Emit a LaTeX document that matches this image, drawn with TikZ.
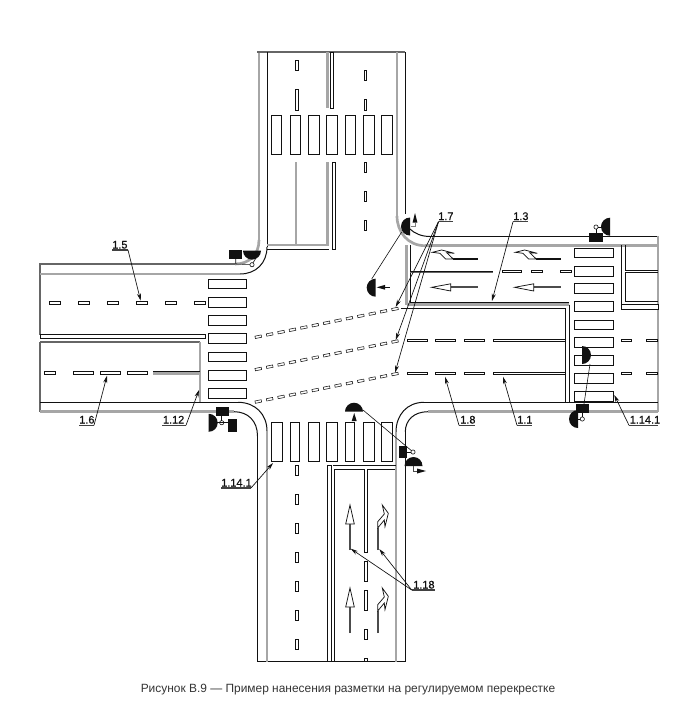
\documentclass[tikz,border=0pt]{standalone}
\usepackage{fontspec}
\setmainfont{Liberation Sans}
\newfontface\lblfont[FakeBold=0.5]{Liberation Sans}
\usetikzlibrary{arrows.meta,calc}
\definecolor{roadgray}{HTML}{A6A6A6}
\definecolor{ink}{HTML}{111111}
\tikzset{
  bk/.style={draw=ink,line width=.75pt},
  gt/.style={draw=roadgray,line width=2pt},
  gm/.style={draw=gray!80!black,line width=1.1pt},
  mk/.style={draw=ink,line width=.7pt,fill=white},
  lead/.style={draw=ink,line width=.5pt,-{Stealth[length=5.5pt,width=3pt]}},
  und/.style={draw=ink!80,line width=.8pt},
  lbl/.style={font=\lblfont\fontsize{8.2pt}{9pt}\selectfont,text=ink,inner sep=0pt,anchor=base west},
  blk/.style={fill=ink},
  wa/.style={draw=ink,line width=.55pt,fill=white},
  captxt/.style={font=\fontsize{8.95pt}{10pt}\selectfont,text=ink!85,inner sep=0pt,anchor=base west}
}
\newcommand{\mkbox}[4]{\draw[mk] (#1,#2) rectangle (#3,#4);}
\newcommand{\hdisc}[3]{\fill[ink,shift={(#1,#2)}] (#3-90:6.75pt) arc[start angle=#3-90,end angle=#3+90,radius=6.75pt] -- cycle;}
\newcommand{\ring}[2]{\draw[ink,line width=.45pt,fill=white] (#1,#2) circle[radius=1.6pt];}
\begin{document}
\begin{tikzpicture}[x=.75pt,y=-.75pt]
\useasboundingbox (0,0) rectangle (682,701);
\fill[white] (0,0) rectangle (682,701);

% ---- north arm
\draw[gt] (259,240) -- (259,52);
\draw[gm] (257,52) -- (405,52);
\draw[bk] (267,52) -- (267,247);
\draw[gt] (397,52) -- (397,216);
\draw[bk] (405.5,52) -- (405.5,214);
\draw[gt] (327.5,52) -- (327.5,108);
\draw[bk] (330.5,52) rectangle (333.5,108);
\draw[gt] (267,245) -- (327.5,245) -- (327.5,162);
\draw[gt] (296,245) -- (296,162);
\draw[bk] (267,249.5) -- (329,249.5);
\draw[bk] (332.5,162) rectangle (335,249.5);
\mkbox{295.5}{60}{298}{70.5}
\mkbox{295.5}{89}{298}{110}
\mkbox{364}{70}{366.5}{80.5}
\mkbox{364}{99}{366.5}{110}
\mkbox{364}{162}{366.5}{172}
\mkbox{364}{191}{366.5}{201}
\mkbox{364}{220}{366.5}{230}
\foreach \a/\b in {271/281.5,290/300,308/319,326/337,345/355,363/374,381/392}{\mkbox{\a}{115}{\b}{154.5}}

% ---- corners
\draw[gt] (259,240) .. controls (259,255) and (249,264) .. (235,264);
\draw[bk] (267,247) .. controls (267,263) and (256,274) .. (240,274);
\draw[gt] (397,216) .. controls (397,232) and (408,245.7) .. (425,245.7);
\draw[bk] (410,229) .. controls (414,233) and (421,236.5) .. (430,236.5);
\draw[bk] (396,432) .. controls (396,415) and (407,402.3) .. (424,402.3);
\draw[bk] (405.3,432) .. controls (405.3,420) and (414,411.7) .. (428,411.7);
\draw[bk] (238,402.3) .. controls (255,402.3) and (267,414) .. (267,431);
\draw[bk] (234,411.7) .. controls (248,411.7) and (257.5,421) .. (257.5,436);

% ---- west arm
\draw[gm] (235,264) -- (40,264) -- (40,335);
\draw[gt,line width=1.4pt] (40,274) -- (240,274);
\draw[mk] (40,334.5) rectangle (205,338.5);
\draw[gm] (40,342) -- (200,342);
\draw[gt] (200,342) -- (200,402);
\draw[gm] (40,342) -- (40,411.7);
\draw[bk] (40,402.3) -- (238,402.3);
\draw[gt] (40,411.7) -- (234,411.7);
\foreach \a/\b in {49/60,78/89,107/118,136/147,165/176,194/205}{\mkbox{\a}{301.7}{\b}{304.2}}
\foreach \a/\b in {44/55,73/93,100/120,127/147}{\mkbox{\a}{371.3}{\b}{374}}
\draw[bk] (153,371.3) -- (200,371.3);
\draw[gt] (153,373.2) -- (200,373.2);
\foreach \y/\z in {279/288,297/307,315/325,333/343,352/361,370/380,388/398}{\mkbox{208}{\y}{246.5}{\z}}

% ---- south arm
\draw[bk] (257.5,436) -- (257.5,661.5) -- (405.3,661.5) -- (405.3,432);
\draw[gt] (267,431) -- (267,661.5);
\draw[gt] (396,432) -- (396,661.5);
\draw[bk] (327,465) rectangle (331,661.5);
\draw[bk] (334,661.5) -- (334,469.3) -- (364.7,469.3) -- (364.7,552) -- (367.8,552) -- (367.8,469.3) -- (395,469.3);
\draw[bk] (333,465) -- (396,465);
\foreach \a/\b in {465/475,494/504,523/533,552/562,581/591,610/620,639/649}{\mkbox{295.5}{\a}{298.5}{\b}}
\foreach \a/\b in {561/581,590/610,629/639,658/661.5}{\mkbox{364.7}{\a}{367.8}{\b}}
\foreach \a/\b in {271/282,290/299,308/319,326/337,345/354,363/374,381/392}{\mkbox{\a}{422}{\b}{461}}

% ---- east arm
\draw[bk] (430,236.5) -- (658,236.5);
\draw[gt] (425,245.7) -- (658,245.7);
\draw[gt] (658,236) -- (658,412);
\draw[bk] (424,402.3) -- (658,402.3);
\draw[gt] (428,411.7) -- (658,411.7);
\draw[gt] (406.5,245) -- (406.5,304.5);
\draw[bk] (410,245) -- (410,302.3) -- (569,302.3);
\draw[gt] (406.5,304.5) -- (569,304.5);
\draw[bk] (401,308) -- (565,308) -- (565,402.3);
\draw[bk] (569,304.5) -- (569,402.3);
\draw[bk] (410,271) -- (493,271);
\draw[gm,line width=.8pt] (410,272.2) -- (493,272.2);
\foreach \a/\b in {502/521,531/542,560/571}{\mkbox{\a}{270.3}{\b}{272.3}}
\foreach \y in {339,372}{
  \foreach \a/\b in {407/427,435/455,464/484,493/565}{\mkbox{\a}{\y}{\b}{\y+2.6}}
  \foreach \a/\b in {621/631,646/657}{\mkbox{\a}{\y}{\b}{\y+2.6}}
}
\foreach \y/\z in {248/257.5,266/276,283/293,301/311,320/329,337/347,355/365,373/383,391/401}{\mkbox{574}{\y}{613}{\z}}
\draw[bk] (621,245) -- (621,304);
\draw[bk] (625.6,245) -- (625.6,270.3) -- (658,270.3);
\draw[bk] (625.6,272.3) -- (658,272.3);
\draw[bk] (625.6,272.3) -- (625.6,301.7) -- (658,301.7);
\draw[mk] (621,304.5) rectangle (658,309);

% ---- dashed diagonals
\foreach \sy/\ey in {336.7/309,369/341.5,401.5/374}{
  \foreach \i in {0,...,12}{
    \draw[ink,line width=.4pt,fill=white,shift={($(258.3,\sy)!\i/12!(395,\ey)$)},rotate=11.3]
      (-2.4pt,-.9pt) rectangle (2.4pt,.9pt);
  }
}

% ---- pavement arrows, west-bound
\foreach \d in {0,83}{
  \draw[draw=gray!60!black,line width=1.6pt] (477.7+\d,287.3) -- (450.7+\d,287.3);
  \draw[wa] (431.7+\d,287.3) -- (450.7+\d,283.8) -- (450.7+\d,291) -- cycle;
  \draw[draw=ink,line width=.8pt] (477.7+\d,259) -- (453.3+\d,259);
  \draw[wa] (432.3+\d,252.3) -- (441.7+\d,250) -- (454.3+\d,253.3) -- (446.7+\d,252.7) -- (453.3+\d,259) -- (445.7+\d,259) -- (440+\d,253.3) -- cycle;
}
% ---- pavement arrows, north-bound
\foreach \d in {0,83}{
  \draw[draw=gray!60!black,line width=1.6pt] (350,550+\d) -- (350,524+\d);
  \draw[wa] (350,505+\d) -- (345.7,524+\d) -- (354.3,524+\d) -- cycle;
  \draw[draw=gray!60!black,line width=1.3pt] (378,550+\d) -- (378,528+\d);
  \draw[wa] (377.7,528+\d) -- (377.7,521.7+\d) -- (384.3,514+\d) -- (382.3,505+\d) -- (388.3,513.3+\d) -- (385,526.7+\d) -- (384.3,520+\d) -- cycle;
}

% ---- signals
\fill[blk] (229,250) rectangle (242,259);
\hdisc{252}{250.6}{270}
\draw[ink,line width=.45pt] (235.7,259) -- (235.7,264) -- (252,264.5) -- (256,258);
\ring{252}{264.7}

\hdisc{410}{226.5}{180}
\fill[ink] (415,213) -- (412.6,222.5) -- (417.4,222.5) -- cycle;
\draw[gray,line width=.6pt] (415,222.5) -- (415,226) -- (410.5,226);
\hdisc{375.7}{287.7}{180}
\fill[ink] (376.7,287.3) -- (385,284.9) -- (385,289.7) -- cycle;
\draw[ink,line width=.5pt] (385,287.3) -- (390,287.3);

\hdisc{610}{226.7}{180}
\fill[blk] (589,232.7) rectangle (603,241.7);
\ring{596}{227}
\draw[ink,line width=.45pt] (596,229) -- (596,232.7) (598,227) -- (603,227);

\hdisc{582}{355}{0}
\fill[blk] (576,404) rectangle (589,412.7);
\hdisc{578}{419}{180}
\ring{582.3}{419}
\draw[ink,line width=.45pt] (582.3,412.7) -- (582.3,417) (578,419) -- (580.3,419);

\fill[blk] (216,407) rectangle (229,415.7);
\hdisc{208.7}{422.8}{0}
\fill[blk] (228,419) rectangle (237,431.7);
\ring{221.7}{422.7}
\draw[ink,line width=.45pt] (217,422.7) -- (228,422.7) (221.7,415.7) -- (221.7,421);

\hdisc{354}{411.7}{90}
\fill[ink] (354.2,413) -- (351.7,421) -- (356.7,421) -- cycle;
\fill[blk] (399,446) rectangle (407,458);
\ring{413}{452}
\draw[ink,line width=.45pt] (407,452) -- (411,452);
\hdisc{413.5}{466}{90}
\draw[gray!60!black,line width=.7pt] (413,466) -- (413,471) -- (418,471);
\fill[ink] (426,471) -- (417,468.5) -- (417,473.5) -- cycle;

% ---- leaders between signals
\coordinate (sigA) at (401.7,232);
\coordinate (sigB) at (371.7,279);
\coordinate (sigC) at (590,364);
\coordinate (sigD) at (584,404);
\coordinate (sigE) at (363,410);
\coordinate (sigF) at (411.5,450.7);
\draw[ink,line width=.45pt] (sigA) -- (sigB);
\draw[ink,line width=.45pt] (sigC) -- (sigD);
\draw[ink,line width=.45pt] (sigE) -- (sigF);

% ---- labels
\node[lbl] (n15) at (112,248.5) {1.5};
\node[lbl] (n16) at (79,423.5) {1.6};
\node[lbl] (n112) at (162.7,423.5) {1.12};
\node[lbl] (n1141a) at (221,486.5) {1.14.1};
\node[lbl] (n118) at (413,588.5) {1.18};
\node[lbl] (n17) at (438,220) {1.7};
\node[lbl] (n13) at (513,220) {1.3};
\node[lbl] (n18) at (460,423.5) {1.8};
\node[lbl] (n11) at (517,423.5) {1.1};
\node[lbl] (n1141b) at (629.5,423.5) {1.14.1};

\coordinate (u15) at (128,250);
\coordinate (u16) at (94,425.3);
\coordinate (u112) at (186,425.3);
\coordinate (u1141a) at (251,488);
\coordinate (u118) at (411.7,590);
\coordinate (u17) at (438.5,221.7);
\coordinate (u13) at (513,221.7);
\coordinate (u18) at (459,425.3);
\coordinate (u11) at (517,425.3);
\coordinate (u1141b) at (629,425.3);
\draw[und] (112,250) -- (u15);
\draw[und] (79,425.3) -- (u16);
\draw[und] (162,425.3) -- (u112);
\draw[und] (221,488) -- (u1141a);
\draw[und] (u118) -- (435,590);
\draw[und] (u17) -- (453,221.7);
\draw[und] (u13) -- (528,221.7);
\draw[und] (u18) -- (475,425.3);
\draw[und] (u11) -- (532,425.3);
\draw[und] (u1141b) -- (658,425.3);

\coordinate (t15) at (140.7,300.7);
\coordinate (t16) at (107,375.7);
\coordinate (t112) at (199,390);
\coordinate (t1141a) at (273,463);
\coordinate (t118a) at (350.7,548.7);
\coordinate (t118b) at (379.3,549);
\coordinate (t17a) at (395.7,307);
\coordinate (t17b) at (395.7,340);
\coordinate (t17c) at (395,372.7);
\coordinate (t13) at (492,301);
\coordinate (t18) at (445,376.7);
\coordinate (t11) at (503,376.7);
\coordinate (t1141b) at (614.3,395);
\draw[lead] (u15) -- (t15);
\draw[lead] (u16) -- (t16);
\draw[lead] (u112) -- (t112);
\draw[lead] (u1141a) -- (t1141a);
\draw[lead] (u118) -- (t118a);
\draw[lead] (u118) -- (t118b);
\draw[lead] (u17) -- (t17a);
\draw[lead] (u17) -- (t17b);
\draw[lead] (u17) -- (t17c);
\draw[lead] (u13) -- (t13);
\draw[lead] (u18) -- (t18);
\draw[lead] (u11) -- (t11);
\draw[lead] (u1141b) -- (t1141b);

\node[captxt] (caption) at (140.5,692.5) {Рисунок В.9 — Пример нанесения разметки на регулируемом перекрестке};
\end{tikzpicture}
\end{document}
